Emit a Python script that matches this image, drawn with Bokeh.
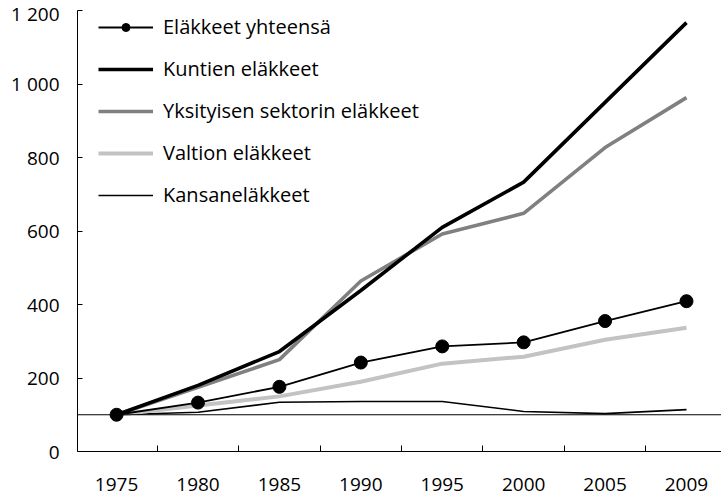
from bokeh.plotting import figure
from bokeh.models import (Range1d, FixedTicker, Span, Legend, LegendItem)
from bokeh.embed import file_html
from bokeh.resources import INLINE

years = ["1975", "1980", "1985", "1990", "1995", "2000", "2005", "2009"]
elakkeet_yhteensa = [100, 133, 176, 242, 286, 297, 355, 409]
kuntien = [100, 180, 272, 438, 610, 733, 950, 1167]
yksityisen = [100, 175, 250, 464, 592, 648, 827, 963]
valtion = [100, 125, 150, 190, 239, 258, 304, 337]
kansan = [100, 107, 134, 136, 136, 109, 103, 114]
baseline = 100
y_ticks = [0, 200, 400, 600, 800, 1000, 1200]
y_tick_labels = ["0", "200", "400", "600", "800", "1 000", "1 200"]

FONT = "Open Sans"
FS_AX = "19px"
FS_LEG = "20px"

xs = list(range(len(years)))

p = figure(width=721, height=497, output_backend="svg", toolbar_location=None,
           x_range=Range1d(-0.48, 7.43), y_range=Range1d(0, 1200),
           min_border_left=77, min_border_right=0, min_border_top=10,
           min_border_bottom=46)
p.outline_line_color = None
p.grid.visible = False
p.background_fill_color = "white"

# axes
xa = p.xaxis[0]
xa.ticker = FixedTicker(ticks=xs, minor_ticks=[i + 0.5 for i in xs[:-1]])
xa.major_label_overrides = {i: y for i, y in zip(xs, years)}
xa.major_tick_in = 0
xa.major_tick_out = 0
xa.minor_tick_in = 6
xa.minor_tick_out = 0
xa.major_label_standoff = 26
xa.axis_line_color = "black"
xa.minor_tick_line_color = "black"
xa.major_label_text_font = FONT
xa.major_label_text_font_size = FS_AX
xa.major_label_text_color = "black"

ya = p.yaxis[0]
ya.ticker = FixedTicker(ticks=y_ticks, minor_ticks=[])
ya.major_label_overrides = {t: l for t, l in zip(y_ticks, y_tick_labels)}
ya.major_tick_in = 5
ya.major_tick_out = 0
ya.minor_tick_in = 0
ya.minor_tick_out = 0
ya.major_label_standoff = 18
ya.axis_line_color = "black"
ya.major_tick_line_color = "black"
ya.major_label_text_font = FONT
ya.major_label_text_font_size = FS_AX
ya.major_label_text_color = "black"

p.add_layout(Span(location=baseline, dimension="width", line_color="black", line_width=1))

r_kansan = p.line(xs, kansan, line_color="black", line_width=1.6)
r_valtion = p.line(xs, valtion, line_color="#c3c3c3", line_width=4)
r_yks = p.line(xs, yksityisen, line_color="#808080", line_width=3.6)
r_kunt = p.line(xs, kuntien, line_color="black", line_width=3.6)
r_tot_l = p.line(xs, elakkeet_yhteensa, line_color="black", line_width=1.8)
r_tot_s = p.scatter(xs, elakkeet_yhteensa, size=13, fill_color="black", line_color="black")

legend = Legend(items=[
    LegendItem(label="Eläkkeet yhteensä", renderers=[r_tot_l, r_tot_s]),
    LegendItem(label="Kuntien eläkkeet", renderers=[r_kunt]),
    LegendItem(label="Yksityisen sektorin eläkkeet", renderers=[r_yks]),
    LegendItem(label="Valtion eläkkeet", renderers=[r_valtion]),
    LegendItem(label="Kansaneläkkeet", renderers=[r_kansan]),
], location=(21, 243))
legend.margin = 0
legend.padding = 0
legend.border_line_color = None
legend.background_fill_alpha = 0
legend.glyph_width = 55
legend.glyph_height = 20
legend.label_height = 20
legend.label_standoff = 10
legend.spacing = 15
legend.label_text_font = FONT
legend.label_text_font_size = FS_LEG
legend.label_text_color = "black"
p.add_layout(legend)

open("out.html", "w").write(file_html(p, INLINE))
